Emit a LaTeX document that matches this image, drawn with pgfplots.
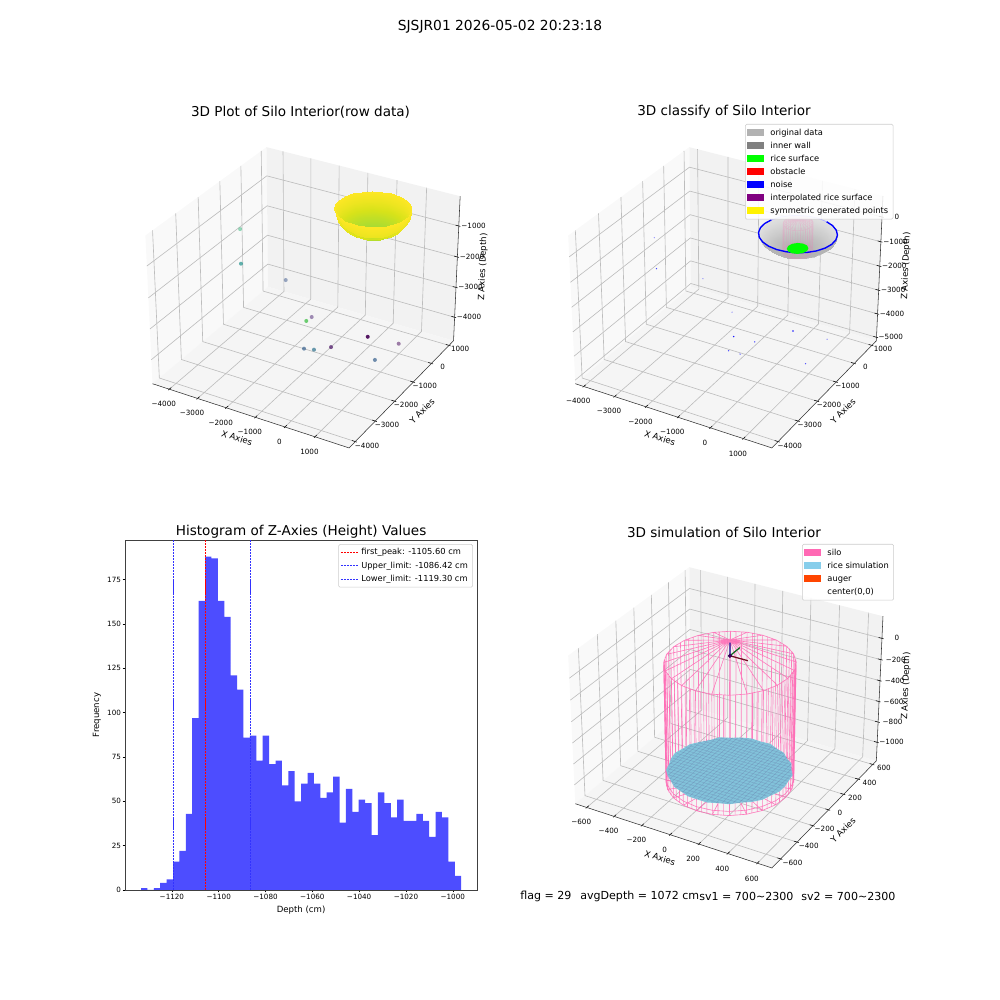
\documentclass[border=0pt]{standalone}
\usepackage{pgfplots}
\usepackage{pgfplotstable}
\usepackage{fontspec}
\setmainfont{DejaVu Sans}
\pgfplotsset{compat=1.18}
\definecolor{barblue}{HTML}{4D4DFF}
\definecolor{hotp}{HTML}{FF69B4}
\definecolor{ricef}{HTML}{82C2DA}
\definecolor{riceh}{HTML}{6A86B0}
\definecolor{gridc}{HTML}{BDBDBD}
\definecolor{legc}{HTML}{CCCCCC}
\definecolor{limb}{RGB}{50,50,255}
\newcommand\tf{\fontsize{5.2}{6}\selectfont}
\newcommand\legf{\fontsize{6}{7}\selectfont}
\newcommand\lf{\fontsize{6.2}{7.2}\selectfont}
\newcommand\ttlf{\fontsize{9.8}{11.6}\selectfont}
\newcommand\supf{\fontsize{10}{12}\selectfont}
\newcommand\btf{\fontsize{8}{9.6}\selectfont}
\def\SX{1}\def\SY{1}\def\ZK{0}
\pgfplotsset{
 colormap={graya}{rgb255(0cm)=(176,176,176); rgb255(8.5cm)=(176,176,176); rgb255(10cm)=(224,224,224)},
 colormap={grayb}{rgb255=(170,170,170) rgb255=(180,180,180)},
 colormap/viridis,
 table/xyz/.style={x expr={pu(nx(\thisrow{x}),ny(\thisrow{y}),nz(\thisrow{z}))},y expr={pv(nx(\thisrow{x}),ny(\thisrow{y}),nz(\thisrow{z}))}},
 table/xyzs/.style={x expr={pu(nx(\thisrow{y}),ny(\thisrow{x}),nz(\thisrow{z}))},y expr={pv(nx(\thisrow{y}),ny(\thisrow{x}),nz(\thisrow{z}))}},
 table/pol/.style={x expr={pu(nx(\SX*\thisrow{r}*cos(\thisrow{th})),ny(\SY*\thisrow{r}*sin(\thisrow{th})),nz(\thisrow{z}+\ZK*(\thisrow{z}+1130)))},y expr={pv(nx(\SX*\thisrow{r}*cos(\thisrow{th})),ny(\SY*\thisrow{r}*sin(\thisrow{th})),nz(\thisrow{z}+\ZK*(\thisrow{z}+1130)))}},
 table/polr/.style={x expr={pu(nx(\thisrow{r}*cos(\thisrow{th}+5)),ny(\thisrow{r}*sin(\thisrow{th}+5)),nz(\thisrow{z}))},y expr={pv(nx(\thisrow{r}*cos(\thisrow{th}+5)),ny(\thisrow{r}*sin(\thisrow{th}+5)),nz(\thisrow{z}))}},
 table/box/.style={x expr={pu(\thisrow{u},\thisrow{v},\thisrow{w})},y expr={pv(\thisrow{u},\thisrow{v},\thisrow{w})}},
 table/gx/.style={x expr={pu(nx(\thisrow{t}),\thisrow{a},\thisrow{b})},y expr={pv(nx(\thisrow{t}),\thisrow{a},\thisrow{b})}},
 table/gy/.style={x expr={pu(\thisrow{a},ny(\thisrow{t}),\thisrow{b})},y expr={pv(\thisrow{a},ny(\thisrow{t}),\thisrow{b})}},
 table/gz/.style={x expr={pu(\thisrow{a},\thisrow{b},nz(\thisrow{t}))},y expr={pv(\thisrow{a},\thisrow{b},nz(\thisrow{t}))}},
 canvas/.style={at={(0,0)},anchor=south west,width=720bp,height=720bp,scale only axis,
  xmin=0,xmax=1000,ymin=0,ymax=1000,y dir=reverse,hide axis,clip=false,unbounded coords=jump,
  point meta min=0,point meta max=1,
  declare function={
   qu(\u)=1.14286*(\u-0.5); qw(\w)=0.85714*(\w-0.5);
   den(\u,\v,\w)=10-(0.43301*qu(\u)-0.75*qu(\v)+0.5*qw(\w));
   pu(\u,\v,\w)=\CX+1891.9*(0.86603*qu(\u)+0.5*qu(\v))/den(\u,\v,\w);
   pv(\u,\v,\w)=\CY-1891.9*(-0.25*qu(\u)+0.43301*qu(\v)+0.86603*qw(\w))/den(\u,\v,\w);
   nx(\x)=(\x-(\XMIN))/((\XMAX)-(\XMIN));
   ny(\x)=(\x-(\YMIN))/((\YMAX)-(\YMIN));
   nz(\x)=(\x-(\ZMIN))/((\ZMAX)-(\ZMIN));
  }},
 gl/.style={gridc,line width=0.45pt,no markers},
 tk/.style={black,line width=0.4pt,no markers},
 al/.style={black!80,line width=0.4pt,no markers},
 tl/.style={only marks,mark=none,nodes near coords={\pgfplotspointmeta},point meta=explicit symbolic,
  nodes near coords align=center,
  every node near coord/.style={anchor=center,inner sep=0pt,font=\tf,text=black}},
 legbox/.style={draw=legc,rounded corners=1pt,fill=white,fill opacity=.85,text opacity=1,font=\legf,
  row sep=1.6pt,inner xsep=1.5pt,inner ysep=2.2pt,nodes={inner ysep=1pt,text height=4.6pt,text depth=1.2pt}},
 legax/.style={at={(0,0)},anchor=south west,width=720bp,height=720bp,scale only axis,
  xmin=0,xmax=1,ymin=0,ymax=1,hide axis,
  legend cell align=left,
  legend image code/.code={\fill[sharp corners,draw=none,fill opacity=1,##1] (1pt,-2.4pt) rectangle (13pt,2.4pt);\path (15.5pt,0pt);}},
}
\newcommand\Frame[3]{%
 \addplot[fill=black!2.5,draw=none,no markers] table[row sep=\\,box]{u v w\\-0.0208 -0.0208 -0.0208\\-0.0208 1.0208 -0.0208\\-0.0208 1.0208 1.0208\\-0.0208 -0.0208 1.0208\\};
 \addplot[fill=black!5,draw=none,no markers] table[row sep=\\,box]{u v w\\-0.0208 1.0208 -0.0208\\1.0208 1.0208 -0.0208\\1.0208 1.0208 1.0208\\-0.0208 1.0208 1.0208\\};
 \addplot[fill=black!3.75,draw=none,no markers] table[row sep=\\,box]{u v w\\-0.0208 -0.0208 -0.0208\\1.0208 -0.0208 -0.0208\\1.0208 1.0208 -0.0208\\-0.0208 1.0208 -0.0208\\};
 \pgfplotsinvokeforeach{#1}{
  \addplot[gl] table[row sep=\\,gx]{t a b\\##1 -0.0208 -0.0208\\##1 1.0208 -0.0208\\##1 1.0208 1.0208\\};
  \addplot[tk] table[row sep=\\,gx]{t a b\\##1 -0.0291 -0.0208\\##1 -0.0041 -0.0208\\};}
 \pgfplotsinvokeforeach{#2}{
  \addplot[gl] table[row sep=\\,gy]{t a b\\##1 1.0208 -0.0208\\##1 -0.0208 -0.0208\\##1 -0.0208 1.0208\\};
  \addplot[tk] table[row sep=\\,gy]{t a b\\##1 1.0291 -0.0208\\##1 1.0041 -0.0208\\};}
 \pgfplotsinvokeforeach{#3}{
  \addplot[gl] table[row sep=\\,gz]{t a b\\##1 -0.0208 -0.0208\\##1 -0.0208 1.0208\\##1 1.0208 1.0208\\};
  \addplot[tk] table[row sep=\\,gz]{t a b\\##1 1.0291 1.0208\\##1 1.0041 1.0208\\};}
 \addplot[al] table[row sep=\\,box]{u v w\\-0.0208 -0.0208 -0.0208\\1.0208 -0.0208 -0.0208\\1.0208 1.0208 -0.0208\\1.0208 1.0208 1.0208\\};
}
% ---- stray points (x y z, m = colour value) split by how strongly they are drawn
\pgfplotstableread[row sep=\\]{x y z m\\
-3006 -29 -3406 0.26\\ -1820 -389 -4127 0.09\\ -4198 -624 -1697 0.66\\ 999 -28 -4443 0.01\\}\ptsA
\pgfplotstableread[row sep=\\]{x y z m\\
-3671 -1307 -2329 0.51\\ -604 -1167 -4330 0.04\\ -306 -2952 -3209 0.30\\ 214 -3221 -2926 0.37\\ 1747 -2502 -3245 0.30\\}\ptsB
\pgfplotstableread[row sep=\\]{x y z m\\
623 -4177 -1339 0.75\\ -71 -36 -4511 0.0\\}\ptsC
% ---- bowl of the silo interior, inner face: rings of (r, angle, z, m)
\pgfplotstableread[row sep=\\]{r th z m\\
1090 0 -480 1\\1090 15 -480 1\\1090 30 -480 1\\1090 45 -480 1\\1090 60 -480 1\\1090 75 -480 1\\1090 90 -480 1\\1090 105 -480 1\\1090 120 -480 1\\1090 135 -480 1\\1090 150 -480 1\\1090 165 -480 1\\1090 180 -480 1\\1090 195 -480 1\\1090 210 -480 1\\1090 225 -480 1\\1090 240 -480 1\\1090 255 -480 1\\1090 270 -480 1\\1090 285 -480 1\\1090 300 -480 1\\1090 315 -480 1\\1090 330 -480 1\\1090 345 -480 1\\1090 360 -480 1\\
1024 0 -702 .975\\1024 15 -702 .975\\1024 30 -702 .975\\1024 45 -702 .975\\1024 60 -702 .975\\1024 75 -702 .975\\1024 90 -702 .975\\1024 105 -702 .975\\1024 120 -702 .975\\1024 135 -702 .975\\1024 150 -702 .975\\1024 165 -702 .975\\1024 180 -702 .975\\1024 195 -702 .975\\1024 210 -702 .975\\1024 225 -702 .975\\1024 240 -702 .975\\1024 255 -702 .975\\1024 270 -702 .975\\1024 285 -702 .975\\1024 300 -702 .975\\1024 315 -702 .975\\1024 330 -702 .975\\1024 345 -702 .975\\1024 360 -702 .975\\
944 0 -805 .955\\944 15 -805 .955\\944 30 -805 .955\\944 45 -805 .955\\944 60 -805 .955\\944 75 -805 .955\\944 90 -805 .955\\944 105 -805 .955\\944 120 -805 .955\\944 135 -805 .955\\944 150 -805 .955\\944 165 -805 .955\\944 180 -805 .955\\944 195 -805 .955\\944 210 -805 .955\\944 225 -805 .955\\944 240 -805 .955\\944 255 -805 .955\\944 270 -805 .955\\944 285 -805 .955\\944 300 -805 .955\\944 315 -805 .955\\944 330 -805 .955\\944 345 -805 .955\\944 360 -805 .955\\
835 0 -898 .935\\835 15 -898 .935\\835 30 -898 .935\\835 45 -898 .935\\835 60 -898 .935\\835 75 -898 .935\\835 90 -898 .935\\835 105 -898 .935\\835 120 -898 .935\\835 135 -898 .935\\835 150 -898 .935\\835 165 -898 .935\\835 180 -898 .935\\835 195 -898 .935\\835 210 -898 .935\\835 225 -898 .935\\835 240 -898 .935\\835 255 -898 .935\\835 270 -898 .935\\835 285 -898 .935\\835 300 -898 .935\\835 315 -898 .935\\835 330 -898 .935\\835 345 -898 .935\\835 360 -898 .935\\
701 0 -978 .91\\701 15 -978 .91\\701 30 -978 .91\\701 45 -978 .91\\701 60 -978 .91\\701 75 -978 .91\\701 90 -978 .91\\701 105 -978 .91\\701 120 -978 .91\\701 135 -978 .91\\701 150 -978 .91\\701 165 -978 .91\\701 180 -978 .91\\701 195 -978 .91\\701 210 -978 .91\\701 225 -978 .91\\701 240 -978 .91\\701 255 -978 .91\\701 270 -978 .91\\701 285 -978 .91\\701 300 -978 .91\\701 315 -978 .91\\701 330 -978 .91\\701 345 -978 .91\\701 360 -978 .91\\
545 0 -1043 .89\\545 15 -1043 .89\\545 30 -1043 .89\\545 45 -1043 .89\\545 60 -1043 .89\\545 75 -1043 .89\\545 90 -1043 .89\\545 105 -1043 .89\\545 120 -1043 .89\\545 135 -1043 .89\\545 150 -1043 .89\\545 165 -1043 .89\\545 180 -1043 .89\\545 195 -1043 .89\\545 210 -1043 .89\\545 225 -1043 .89\\545 240 -1043 .89\\545 255 -1043 .89\\545 270 -1043 .89\\545 285 -1043 .89\\545 300 -1043 .89\\545 315 -1043 .89\\545 330 -1043 .89\\545 345 -1043 .89\\545 360 -1043 .89\\
282 0 -1108 .86\\282 15 -1108 .86\\282 30 -1108 .86\\282 45 -1108 .86\\282 60 -1108 .86\\282 75 -1108 .86\\282 90 -1108 .86\\282 105 -1108 .86\\282 120 -1108 .86\\282 135 -1108 .86\\282 150 -1108 .86\\282 165 -1108 .86\\282 180 -1108 .86\\282 195 -1108 .86\\282 210 -1108 .86\\282 225 -1108 .86\\282 240 -1108 .86\\282 255 -1108 .86\\282 270 -1108 .86\\282 285 -1108 .86\\282 300 -1108 .86\\282 315 -1108 .86\\282 330 -1108 .86\\282 345 -1108 .86\\282 360 -1108 .86\\
0 0 -1130 .85\\0 15 -1130 .85\\0 30 -1130 .85\\0 45 -1130 .85\\0 60 -1130 .85\\0 75 -1130 .85\\0 90 -1130 .85\\0 105 -1130 .85\\0 120 -1130 .85\\0 135 -1130 .85\\0 150 -1130 .85\\0 165 -1130 .85\\0 180 -1130 .85\\0 195 -1130 .85\\0 210 -1130 .85\\0 225 -1130 .85\\0 240 -1130 .85\\0 255 -1130 .85\\0 270 -1130 .85\\0 285 -1130 .85\\0 300 -1130 .85\\0 315 -1130 .85\\0 330 -1130 .85\\0 345 -1130 .85\\0 360 -1130 .85\\
}\bowlIn
% ---- bowl, outer face seen below the near rim
\pgfplotstableread[row sep=\\]{r th z m\\
1090 -154 -480 1\\1090 -131.5 -480 1\\1090 -109 -480 1\\1090 -86.5 -480 1\\1090 -64 -480 1\\1090 -41.5 -480 1\\1090 -19 -480 1\\1090 3.5 -480 1\\1090 26 -480 1\\
1024 -147.4 -702 .98\\1024 -126.55 -702 .98\\1024 -105.7 -702 .98\\1024 -84.85 -702 .98\\1024 -64 -702 .98\\1024 -43.15 -702 .98\\1024 -22.3 -702 .98\\1024 -1.45 -702 .98\\1024 19.4 -702 .98\\
835 -138.6 -898 .965\\835 -119.95 -898 .965\\835 -101.3 -898 .965\\835 -82.65 -898 .965\\835 -64 -898 .965\\835 -45.35 -898 .965\\835 -26.7 -898 .965\\835 -8.05 -898 .965\\835 10.6 -898 .965\\
545 -120.8 -1043 .945\\545 -106.6 -1043 .945\\545 -92.4 -1043 .945\\545 -78.2 -1043 .945\\545 -64 -1043 .945\\545 -49.8 -1043 .945\\545 -35.6 -1043 .945\\545 -21.4 -1043 .945\\545 -7.2 -1043 .945\\
373 -93.8 -1091 .93\\373 -86.35 -1091 .93\\373 -78.9 -1091 .93\\373 -71.45 -1091 .93\\373 -64 -1091 .93\\373 -56.55 -1091 .93\\373 -49.1 -1091 .93\\373 -41.65 -1091 .93\\373 -34.2 -1091 .93\\
328 -64 -1100 .92\\328 -64 -1100 .92\\328 -64 -1100 .92\\328 -64 -1100 .92\\328 -64 -1100 .92\\328 -64 -1100 .92\\328 -64 -1100 .92\\328 -64 -1100 .92\\328 -64 -1100 .92\\
}\bowlOut
% ---- silo wire frame: rings (rows 0-77), wall lines (78-185), roof and floor spokes (186 on)
\pgfplotstableread[row sep=\\]{r th z\\
400 0 -60\\400 15 -60\\400 30 -60\\400 45 -60\\400 60 -60\\400 75 -60\\400 90 -60\\400 105 -60\\400 120 -60\\400 135 -60\\400 150 -60\\400 165 -60\\400 180 -60\\400 195 -60\\400 210 -60\\400 225 -60\\400 240 -60\\400 255 -60\\400 270 -60\\400 285 -60\\400 300 -60\\400 315 -60\\400 330 -60\\400 345 -60\\400 360 -60\\nan 0 0\\
400 0 -1150\\400 15 -1150\\400 30 -1150\\400 45 -1150\\400 60 -1150\\400 75 -1150\\400 90 -1150\\400 105 -1150\\400 120 -1150\\400 135 -1150\\400 150 -1150\\400 165 -1150\\400 180 -1150\\400 195 -1150\\400 210 -1150\\400 225 -1150\\400 240 -1150\\400 255 -1150\\400 270 -1150\\400 285 -1150\\400 300 -1150\\400 315 -1150\\400 330 -1150\\400 345 -1150\\400 360 -1150\\nan 0 0\\
400 0 -1190\\400 15 -1190\\400 30 -1190\\400 45 -1190\\400 60 -1190\\400 75 -1190\\400 90 -1190\\400 105 -1190\\400 120 -1190\\400 135 -1190\\400 150 -1190\\400 165 -1190\\400 180 -1190\\400 195 -1190\\400 210 -1190\\400 225 -1190\\400 240 -1190\\400 255 -1190\\400 270 -1190\\400 285 -1190\\400 300 -1190\\400 315 -1190\\400 330 -1190\\400 345 -1190\\400 360 -1190\\nan 0 0\\
400 0 -60\\400 0 -1190\\nan 0 0\\400 10 -60\\400 10 -1190\\nan 0 0\\400 20 -60\\400 20 -1190\\nan 0 0\\400 30 -60\\400 30 -1190\\nan 0 0\\400 40 -60\\400 40 -1190\\nan 0 0\\400 50 -60\\400 50 -1190\\nan 0 0\\400 60 -60\\400 60 -1190\\nan 0 0\\400 70 -60\\400 70 -1190\\nan 0 0\\400 80 -60\\400 80 -1190\\nan 0 0\\400 90 -60\\400 90 -1190\\nan 0 0\\400 100 -60\\400 100 -1190\\nan 0 0\\400 110 -60\\400 110 -1190\\nan 0 0\\400 120 -60\\400 120 -1190\\nan 0 0\\400 130 -60\\400 130 -1190\\nan 0 0\\400 140 -60\\400 140 -1190\\nan 0 0\\400 150 -60\\400 150 -1190\\nan 0 0\\400 160 -60\\400 160 -1190\\nan 0 0\\400 170 -60\\400 170 -1190\\nan 0 0\\
400 180 -60\\400 180 -1190\\nan 0 0\\400 190 -60\\400 190 -1190\\nan 0 0\\400 200 -60\\400 200 -1190\\nan 0 0\\400 210 -60\\400 210 -1190\\nan 0 0\\400 220 -60\\400 220 -1190\\nan 0 0\\400 230 -60\\400 230 -1190\\nan 0 0\\400 240 -60\\400 240 -1190\\nan 0 0\\400 250 -60\\400 250 -1190\\nan 0 0\\400 260 -60\\400 260 -1190\\nan 0 0\\400 270 -60\\400 270 -1190\\nan 0 0\\400 280 -60\\400 280 -1190\\nan 0 0\\400 290 -60\\400 290 -1190\\nan 0 0\\400 300 -60\\400 300 -1190\\nan 0 0\\400 310 -60\\400 310 -1190\\nan 0 0\\400 320 -60\\400 320 -1190\\nan 0 0\\400 330 -60\\400 330 -1190\\nan 0 0\\400 340 -60\\400 340 -1190\\nan 0 0\\400 350 -60\\400 350 -1190\\nan 0 0\\
0 0 145\\400 0 -60\\nan 0 0\\0 0 145\\400 15 -60\\nan 0 0\\0 0 145\\400 30 -60\\nan 0 0\\0 0 145\\400 45 -60\\nan 0 0\\0 0 145\\400 60 -60\\nan 0 0\\0 0 145\\400 75 -60\\nan 0 0\\0 0 145\\400 90 -60\\nan 0 0\\0 0 145\\400 105 -60\\nan 0 0\\0 0 145\\400 120 -60\\nan 0 0\\0 0 145\\400 135 -60\\nan 0 0\\0 0 145\\400 150 -60\\nan 0 0\\0 0 145\\400 165 -60\\nan 0 0\\0 0 145\\400 180 -60\\nan 0 0\\0 0 145\\400 195 -60\\nan 0 0\\0 0 145\\400 210 -60\\nan 0 0\\0 0 145\\400 225 -60\\nan 0 0\\0 0 145\\400 240 -60\\nan 0 0\\0 0 145\\400 255 -60\\nan 0 0\\0 0 145\\400 270 -60\\nan 0 0\\0 0 145\\400 285 -60\\nan 0 0\\0 0 145\\400 300 -60\\nan 0 0\\0 0 145\\400 315 -60\\nan 0 0\\0 0 145\\400 330 -60\\nan 0 0\\0 0 145\\400 345 -60\\nan 0 0\\
0 0 -1190\\400 0 -1190\\nan 0 0\\0 0 -1190\\400 15 -1190\\nan 0 0\\0 0 -1190\\400 30 -1190\\nan 0 0\\0 0 -1190\\330 45 -1190\\nan 0 0\\0 0 -1190\\400 300 -1190\\nan 0 0\\0 0 -1190\\400 285 -1190\\nan 0 0\\0 0 -1190\\400 270 -1190\\nan 0 0\\0 0 -1190\\400 255 -1190\\nan 0 0\\0 0 -1190\\400 240 -1190\\nan 0 0\\0 0 -1190\\400 225 -1190\\nan 0 0\\0 0 -1190\\400 210 -1190\\nan 0 0\\0 0 -1190\\400 315 -1190\\nan 0 0\\0 0 -1190\\400 330 -1190\\nan 0 0\\0 0 -1190\\400 345 -1190\\nan 0 0\\
}\silo
% ---- rice surface outline and its mesh lines
\pgfplotstableread[row sep=\\]{r th z\\
385 0 -1085\\380 10 -1085\\388 20 -1085\\376 30 -1085\\384 40 -1085\\372 50 -1085\\386 60 -1085\\378 70 -1085\\392 80 -1085\\380 90 -1085\\390 100 -1085\\384 110 -1085\\375 120 -1085\\389 130 -1085\\372 140 -1085\\378 150 -1085\\392 160 -1085\\386 170 -1085\\395 180 -1085\\388 190 -1085\\380 200 -1085\\390 210 -1085\\384 220 -1085\\378 230 -1085\\386 240 -1085\\380 250 -1085\\388 260 -1085\\384 270 -1085\\390 280 -1085\\380 290 -1085\\386 300 -1085\\376 310 -1085\\386 320 -1085\\392 330 -1085\\384 340 -1085\\390 350 -1085\\
}\riceOut
\pgfplotstableread[row sep=\\]{x y z\\
0 -385 -1085\\0 385 -1085\\nan nan nan\\30 -384 -1085\\30 384 -1085\\nan nan nan\\-30 -384 -1085\\-30 384 -1085\\nan nan nan\\60 -380 -1085\\60 380 -1085\\nan nan nan\\-60 -380 -1085\\-60 380 -1085\\nan nan nan\\90 -374 -1085\\90 374 -1085\\nan nan nan\\-90 -374 -1085\\-90 374 -1085\\nan nan nan\\120 -366 -1085\\120 366 -1085\\nan nan nan\\-120 -366 -1085\\-120 366 -1085\\nan nan nan\\150 -355 -1085\\150 355 -1085\\nan nan nan\\-150 -355 -1085\\-150 355 -1085\\nan nan nan\\180 -340 -1085\\180 340 -1085\\nan nan nan\\-180 -340 -1085\\-180 340 -1085\\nan nan nan\\210 -323 -1085\\210 323 -1085\\nan nan nan\\-210 -323 -1085\\-210 323 -1085\\nan nan nan\\240 -301 -1085\\240 301 -1085\\nan nan nan\\-240 -301 -1085\\-240 301 -1085\\nan nan nan\\270 -274 -1085\\270 274 -1085\\nan nan nan\\-270 -274 -1085\\-270 274 -1085\\nan nan nan\\300 -241 -1085\\300 241 -1085\\nan nan nan\\-300 -241 -1085\\-300 241 -1085\\nan nan nan\\330 -198 -1085\\330 198 -1085\\nan nan nan\\-330 -198 -1085\\-330 198 -1085\\nan nan nan\\360 -136 -1085\\360 136 -1085\\nan nan nan\\-360 -136 -1085\\-360 136 -1085\\
}\riceMesh
% ---- histogram: left bin edge and count
\pgfplotstableread[row sep=\\]{e c\\
-1133.20 1\\-1130.46 0\\-1127.73 1\\-1124.99 4\\-1122.26 6\\-1119.52 16\\-1116.78 22\\-1114.05 43\\-1111.31 97\\-1108.58 163\\-1105.84 188\\-1103.10 187\\-1100.37 163\\-1097.63 154\\-1094.90 121\\-1092.16 113\\-1089.42 86\\-1086.69 87\\-1083.95 73\\-1081.22 87\\-1078.48 71\\-1075.74 73\\-1073.01 59\\-1070.27 67\\-1067.54 50\\-1064.80 60\\-1062.06 66\\-1059.33 60\\-1056.59 52\\-1053.86 55\\-1051.12 64\\-1048.38 38\\-1045.65 57\\-1042.91 44\\-1040.18 51\\-1037.44 49\\-1034.70 31\\-1031.97 55\\-1029.23 49\\-1026.50 41\\-1023.76 51\\-1021.02 39\\-1018.29 39\\-1015.55 43\\-1012.82 39\\-1010.08 30\\-1007.34 44\\-1004.61 41\\-1001.87 16\\-999.14 8\\-996.40 0\\
}\hist
\begin{document}
\begin{tikzpicture}
\path[use as bounding box] (0,0) rectangle (720bp,720bp);
%% ---------- panel 1
\def\CX{305.8}\def\CY{290.3}
\def\XMIN{-4467}\def\XMAX{1981}\def\YMIN{-4192}\def\YMAX{1151}\def\ZMIN{-4704}\def\ZMAX{-152}
\begin{axis}[canvas,colormap/viridis]
\Frame{-4000,-3000,-2000,-1000,0,1000}{-4000,-3000,-2000,-1000,0,1000}{-4000,-3000,-2000,-1000}
\addplot[tl] table[row sep=\\,gx,meta=l]{t a b l\\-4000 -0.07 -0.09 −4000\\-3000 -0.07 -0.09 −3000\\-2000 -0.07 -0.09 −2000\\-1000 -0.07 -0.09 −1000\\0 -0.07 -0.09 0\\1000 -0.07 -0.09 1000\\};
\addplot[tl] table[row sep=\\,gy,meta=l]{t a b l\\-4000 1.08 -0.0208 −4000\\-3000 1.08 -0.0208 −3000\\-2000 1.08 -0.0208 −2000\\-1000 1.08 -0.0208 −1000\\0 1.08 -0.0208 0\\1000 1.08 -0.0208 1000\\};
\addplot[tl] table[row sep=\\,gz,meta=l]{t a b l\\-4000 1.08 1.056 −4000\\-3000 1.08 1.056 −3000\\-2000 1.08 1.056 −2000\\-1000 1.08 1.056 −1000\\};
\def\SX{1.054}\def\SY{0.873}\def\ZK{0.246}
\addplot[surf,shader=interp,mesh/cols=25,point meta=\thisrow{m}] table[pol] \bowlIn;
\addplot[surf,shader=interp,mesh/cols=9,point meta=\thisrow{m}] table[pol] \bowlOut;
\def\SX{1}\def\SY{1}\def\ZK{0}
\addplot[scatter,only marks,mark=*,mark size=1.44bp,scatter src=\thisrow{m},mark options={draw opacity=0,fill opacity=.5}] table[xyz] \ptsA;
\addplot[scatter,only marks,mark=*,mark size=1.44bp,scatter src=\thisrow{m},mark options={draw opacity=0,fill opacity=.7}] table[xyz] \ptsB;
\addplot[scatter,only marks,mark=*,mark size=1.44bp,scatter src=\thisrow{m},mark options={draw opacity=0,fill opacity=.9}] table[xyz] \ptsC;
\node[font=\ttlf] at (axis cs:300.5,112) {3D Plot of Silo Interior(row data)};
\node[font=\lf,rotate=-18] at (axis cs:237,438) {X Axies};
\node[font=\lf,rotate=45] at (axis cs:422,411) {Y Axies};
\node[font=\lf,rotate=88] at (axis cs:483,267) {Z Axies (Depth)};
\node[font=\supf] at (axis cs:500,27) {SJSJR01 2026-05-02 20:23:18};
\end{axis}
%% ---------- panel 2
\def\CX{728.6}\def\CY{290.3}
\def\XMIN{-4152}\def\XMAX{1725}\def\YMIN{-4192}\def\YMAX{1151}\def\ZMIN{-5030}\def\ZMAX{708}
\begin{axis}[canvas]
\Frame{-4000,-3000,-2000,-1000,0,1000}{-4000,-3000,-2000,-1000,0,1000}{-5000,-4000,-3000,-2000,-1000,0}
\addplot[tl] table[row sep=\\,gx,meta=l]{t a b l\\-4000 -0.07 -0.09 −4000\\-3000 -0.07 -0.09 −3000\\-2000 -0.07 -0.09 −2000\\-1000 -0.07 -0.09 −1000\\0 -0.07 -0.09 0\\1000 -0.07 -0.09 1000\\};
\addplot[tl] table[row sep=\\,gy,meta=l]{t a b l\\-4000 1.08 -0.0208 −4000\\-3000 1.08 -0.0208 −3000\\-2000 1.08 -0.0208 −2000\\-1000 1.08 -0.0208 −1000\\0 1.08 -0.0208 0\\1000 1.08 -0.0208 1000\\};
\addplot[tl] table[row sep=\\,gz,meta=l]{t a b l\\-5000 1.08 1.056 −5000\\-4000 1.08 1.056 −4000\\-3000 1.08 1.056 −3000\\-2000 1.08 1.056 −2000\\-1000 1.08 1.056 −1000\\0 1.08 1.056 0\\};
\def\SX{0.986}\def\SY{0.896}
\addplot[surf,shader=interp,colormap name=graya,mesh/cols=25,point meta=\thisrow{m}] table[pol] \bowlIn;
\addplot[surf,shader=interp,colormap name=grayb,mesh/cols=9,point meta=\thisrow{m}] table[pol] \bowlOut;
\def\SX{1}\def\SY{1}
\addplot[hotp,line width=0.3pt,opacity=.22,no markers] table[pol] \silo;
\def\SX{0.986}\def\SY{0.896}
\addplot[blue,line width=1pt,no markers] table[row sep=\\,pol]{r th z\\1090 -199 -480\\1090 -184 -480\\1090 -169 -480\\1090 -154 -480\\1090 -139 -480\\1090 -124 -480\\1090 -109 -480\\1090 -94 -480\\1090 -79 -480\\1090 -64 -480\\1090 -49 -480\\1090 -34 -480\\1090 -19 -480\\1090 -4 -480\\1090 11 -480\\1090 26 -480\\1090 41 -480\\1090 56 -480\\1090 71 -480\\};
\addplot[blue!30,line width=0.6pt,no markers] table[row sep=\\,pol]{r th z\\1090 71 -480\\1090 86 -480\\1090 101 -480\\1090 116 -480\\1090 131 -480\\1090 146 -480\\1090 161 -480\\};
\def\SX{1}\def\SY{1}
\addplot[fill=green,draw=none,no markers] table[row sep=\\,pol]{r th z\\290 0 -1072\\290 30 -1072\\290 60 -1072\\290 90 -1072\\290 120 -1072\\290 150 -1072\\290 180 -1072\\290 210 -1072\\290 240 -1072\\290 270 -1072\\290 300 -1072\\290 330 -1072\\};
\addplot[only marks,mark=*,mark size=0.5bp,blue,mark options={draw opacity=0,fill opacity=.4}] table[xyz] \ptsA;
\addplot[only marks,mark=*,mark size=0.5bp,blue,mark options={draw opacity=0,fill opacity=.7}] table[xyz] \ptsB;
\addplot[only marks,mark=*,mark size=0.6bp,blue,mark options={draw opacity=0,fill opacity=.9}] table[xyz] \ptsC;
\node[font=\ttlf] at (axis cs:724,112) {3D classify of Silo Interior};
\node[font=\lf,rotate=-18] at (axis cs:660,438) {X Axies};
\node[font=\lf,rotate=45] at (axis cs:843,411) {Y Axies};
\node[font=\lf,rotate=88] at (axis cs:906,266) {Z Axies (Depth)};
\end{axis}
%% ---------- panel 3
\def\CX{728.6}\def\CY{710.3}
\def\XMIN{-657}\def\XMAX{670}\def\YMIN{-678}\def\YMAX{624}\def\ZMIN{-1156}\def\ZMAX{177}
\begin{axis}[canvas]
\Frame{-600,-400,-200,0,200,400,600}{-600,-400,-200,0,200,400,600}{-1000,-800,-600,-400,-200,0}
\addplot[tl] table[row sep=\\,gx,meta=l]{t a b l\\-600 -0.07 -0.09 −600\\-400 -0.07 -0.09 −400\\-200 -0.07 -0.09 −200\\0 -0.07 -0.09 0\\200 -0.07 -0.09 200\\400 -0.07 -0.09 400\\600 -0.07 -0.09 600\\};
\addplot[tl] table[row sep=\\,gy,meta=l]{t a b l\\-600 1.08 -0.0208 −600\\-400 1.08 -0.0208 −400\\-200 1.08 -0.0208 −200\\0 1.08 -0.0208 0\\200 1.08 -0.0208 200\\400 1.08 -0.0208 400\\600 1.08 -0.0208 600\\};
\addplot[tl] table[row sep=\\,gz,meta=l]{t a b l\\-1000 1.08 1.056 −1000\\-800 1.08 1.056 −800\\-600 1.08 1.056 −600\\-400 1.08 1.056 −400\\-200 1.08 1.056 −200\\0 1.08 1.056 0\\};
\addplot[hotp,line width=0.45pt,opacity=.85,no markers] table[pol] \silo;
\addplot[hotp,line width=0.45pt,opacity=.7,no markers,skip coords between index={0}{78},skip coords between index={186}{500}] table[polr] \silo;
\def\SX{1.02}\def\SY{1.02}
\addplot[fill=ricef,draw=none,no markers] table[pol] \riceOut;
\def\SX{1}\def\SY{1}
\addplot[riceh,line width=0.3pt,opacity=.5,no markers] table[xyz] \riceMesh;
\addplot[riceh,line width=0.3pt,opacity=.5,no markers] table[xyzs] \riceMesh;
\addplot[color={rgb,255:red,110;green,15;blue,30},line width=0.9pt,no markers] table[row sep=\\,xyz]{x y z\\0 0 0\\125 0 0\\};
\addplot[color={rgb,255:red,15;green,100;blue,30},line width=0.9pt,no markers] table[row sep=\\,xyz]{x y z\\0 0 0\\0 120 0\\};
\addplot[color={rgb,255:red,20;green,20;blue,150},line width=1pt,no markers] table[row sep=\\,xyz]{x y z\\0 0 0\\0 0 120\\};
\addplot[only marks,mark=*,mark size=1.3bp,color={rgb,255:red,60;green,0;blue,90}] table[row sep=\\,xyz]{x y z\\0 0 0\\};
\node[font=\ttlf] at (axis cs:724,532) {3D simulation of Silo Interior};
\node[font=\lf,rotate=-18] at (axis cs:660,858) {X Axies};
\node[font=\lf,rotate=45] at (axis cs:843,830) {Y Axies};
\node[font=\lf,rotate=88] at (axis cs:906,686) {Z Axies (Depth)};
\node[font=\btf,anchor=west,inner sep=0pt] at (axis cs:520,896) {flag = 29};
\node[font=\btf,anchor=west,inner sep=0pt] at (axis cs:580,896) {avgDepth = 1072 cm};
\node[font=\btf,anchor=west,inner sep=0pt] at (axis cs:699,896) {sv1 = 700\string~2300};
\node[font=\btf,anchor=west,inner sep=0pt] at (axis cs:801,896) {sv2 = 700\string~2300};
\end{axis}
%% ---------- panel 2 and 3 legends
\begin{axis}[legax,legend style={at={(0.745,0.876)},anchor=north west,legbox}]
\addlegendimage{fill=black!30}\addlegendentry{original data}
\addlegendimage{fill=gray}\addlegendentry{inner wall}
\addlegendimage{fill=green}\addlegendentry{rice surface}
\addlegendimage{fill=red}\addlegendentry{obstacle}
\addlegendimage{fill=blue}\addlegendentry{noise}
\addlegendimage{fill={rgb,255:red,128;green,0;blue,128}}\addlegendentry{interpolated rice surface}
\addlegendimage{fill=yellow}\addlegendentry{symmetric generated points}
\end{axis}
\begin{axis}[legax,legend style={at={(0.802,0.456)},anchor=north west,legbox}]
\addlegendimage{fill=hotp}\addlegendentry{silo}
\addlegendimage{fill={rgb,255:red,135;green,206;blue,235}}\addlegendentry{rice simulation}
\addlegendimage{fill={rgb,255:red,255;green,69;blue,0}}\addlegendentry{auger}
\addlegendimage{fill=white}\addlegendentry{center(0,0)}
\end{axis}
%% ---------- histogram
\begin{axis}[at={(90bp,79.2bp)},anchor=south west,scale only axis,width=253.6bp,height=252bp,
 xmin=-1140.04,xmax=-989.56,ymin=0,ymax=197.4,
 axis line style={black!75,line width=0.4pt},
 tick style={black,line width=0.4pt},major tick length=1.75pt,tick align=outside,xtick pos=bottom,ytick pos=left,
 xtick={-1120,-1100,-1080,-1060,-1040,-1020,-1000},xticklabels={−1120,−1100,−1080,−1060,−1040,−1020,−1000},
 ytick={0,25,50,75,100,125,150,175},yticklabels={0,25,50,75,100,125,150,175},
 ticklabel style={font=\tf},
 xticklabel style={inner sep=1pt},yticklabel style={inner sep=1pt},
 xlabel={Depth (cm)},ylabel={Frequency},
 label style={font=\lf},
 title={Histogram of Z-Axies (Height) Values},title style={font=\ttlf,yshift=-8.5bp},
 legend style={at={(0.988,0.988)},anchor=north east,draw=legc,rounded corners=1pt,font=\legf,
  row sep=2.2pt,inner sep=1.5pt,nodes={inner ysep=1pt,text height=4.6pt,text depth=1.2pt}},
 legend image code/.code={\draw[#1] (0pt,0pt) -- (12.5pt,0pt);},
 legend cell align=left]
\addplot[ybar interval,fill=barblue,draw=none,forget plot] table[x=e,y=c] \hist;
\addplot[color=red,line width=0.5pt,dash pattern=on 1.5pt off 0.65pt] coordinates {(-1105.60,0) (-1105.60,197.4)};
\addlegendentry{first\_peak: -1105.60 cm}
\addplot[color=limb,line width=0.5pt,dash pattern=on 1.5pt off 0.65pt] coordinates {(-1086.42,0) (-1086.42,197.4)};
\addlegendentry{Upper\_limit: -1086.42 cm}
\addplot[color=limb,line width=0.5pt,dash pattern=on 1.5pt off 0.65pt] coordinates {(-1119.30,0) (-1119.30,197.4)};
\addlegendentry{Lower\_limit: -1119.30 cm}
\end{axis}
\end{tikzpicture}
\end{document}
